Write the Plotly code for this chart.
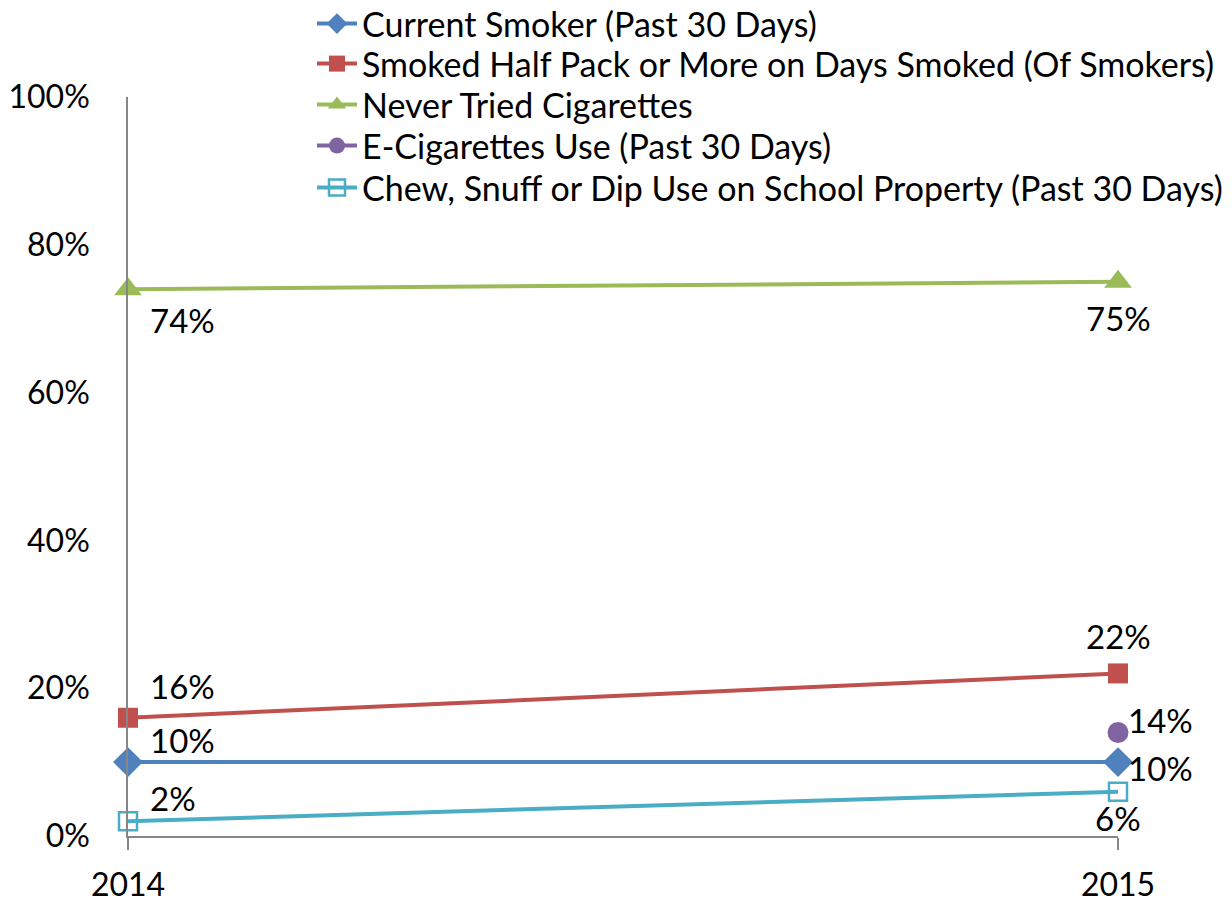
import plotly.graph_objects as go

years = [2014, 2015]
series_names = [
    "Current Smoker (Past 30 Days)",
    "Smoked Half Pack or More on Days Smoked (Of Smokers)",
    "Never Tried Cigarettes",
    "E-Cigarettes Use (Past 30 Days)",
    "Chew, Snuff or Dip Use on School Property (Past 30 Days)",
]
current_smoker = [10, 10]
half_pack = [16, 22]
never_tried = [74, 75]
ecig = [None, 14]
chew = [2, 6]
y_ticks = [0, 20, 40, 60, 80, 100]
y_tick_labels = ["0%", "20%", "40%", "60%", "80%", "100%"]

values = [current_smoker, half_pack, never_tried, ecig, chew]
colors = ["#4F81BD", "#C0504D", "#9BBB59", "#8064A2", "#4BACC6"]
symbols = ["diamond", "square", "triangle-up", "circle", "square-open"]
msizes = [23, 20, 24, 21, 18]

# label placement per series per point: (xanchor, xshift, yshift)
placement = [
    [("left", 20, 22), ("left", 8, -6)],
    [("left", 20, 32), ("center", 0, 37)],
    [("left", 20, -31), ("center", 0, -36)],
    [None, ("left", 8, 13)],
    [("left", 20, 23), ("center", 0, -26)],
]

FONT = "Lato, Calibri, sans-serif"
# page is rendered with an 8px body margin; plot area target: x 128..1118, y 97..836
OFF = 8
L, T = 128 - OFF, 97 - OFF
PW, PH = 990, 739
W, H = 1232, 901

legend_rows_px = [24, 64, 105, 146, 188]  # legend row centres (page px)
legend_text_x = 312  # page px

fig = go.Figure()
layout_legends = {}
for i, (name, vals, col, sym, ms) in enumerate(zip(series_names, values, colors, symbols, msizes)):
    lname = "legend" if i == 0 else f"legend{i+1}"
    fig.add_trace(go.Scatter(
        x=years, y=vals, name=name, mode="lines+markers",
        line=dict(color=col, width=4),
        marker=dict(symbol=sym, size=ms, color=col,
                    line=dict(color=col, width=2.5 if sym == "square-open" else 0)),
        cliponaxis=False, legend=lname,
    ))
    layout_legends[lname] = dict(
        x=(legend_text_x - 128) / PW, y=(836 - legend_rows_px[i]) / PH,
        xanchor="left", yanchor="middle",
        font=dict(family=FONT, size=34, color="#000"),
        bgcolor="rgba(0,0,0,0)", itemwidth=40,
    )

annotations = []
for vals, pl in zip(values, placement):
    for xv, yv, p in zip(years, vals, pl):
        if yv is None or p is None:
            continue
        annotations.append(dict(
            x=xv, y=yv, text=f"{yv}%", showarrow=False,
            xanchor=p[0], yanchor="middle", xshift=p[1], yshift=p[2],
            font=dict(family=FONT, size=33, color="#000"),
        ))

fig.update_layout(
    width=W, height=H,
    margin=dict(l=L, r=W - L - PW, t=T, b=H - T - PH, autoexpand=False),
    paper_bgcolor="white", plot_bgcolor="white",
    font=dict(family=FONT, size=32, color="#000"),
    annotations=annotations,
    showlegend=True,
    **layout_legends,
)
fig.update_xaxes(
    range=[2014, 2015], tickvals=years, ticktext=[str(y) for y in years],
    showgrid=False, zeroline=False, showline=True, linecolor="#868686", linewidth=1.5,
    ticks="outside", ticklen=12, tickcolor="#868686", tickwidth=1.5,
    ticklabelstandoff=8,
    tickfont=dict(family=FONT, size=32, color="#000"),
)
fig.update_yaxes(
    range=[0, 100], tickvals=y_ticks, ticktext=y_tick_labels,
    showgrid=False, zeroline=False, showline=True, linecolor="#868686", linewidth=1.5,
    ticks="", ticklabelstandoff=30,
    tickfont=dict(family=FONT, size=32, color="#000"),
)
fig.write_html("out.html")
